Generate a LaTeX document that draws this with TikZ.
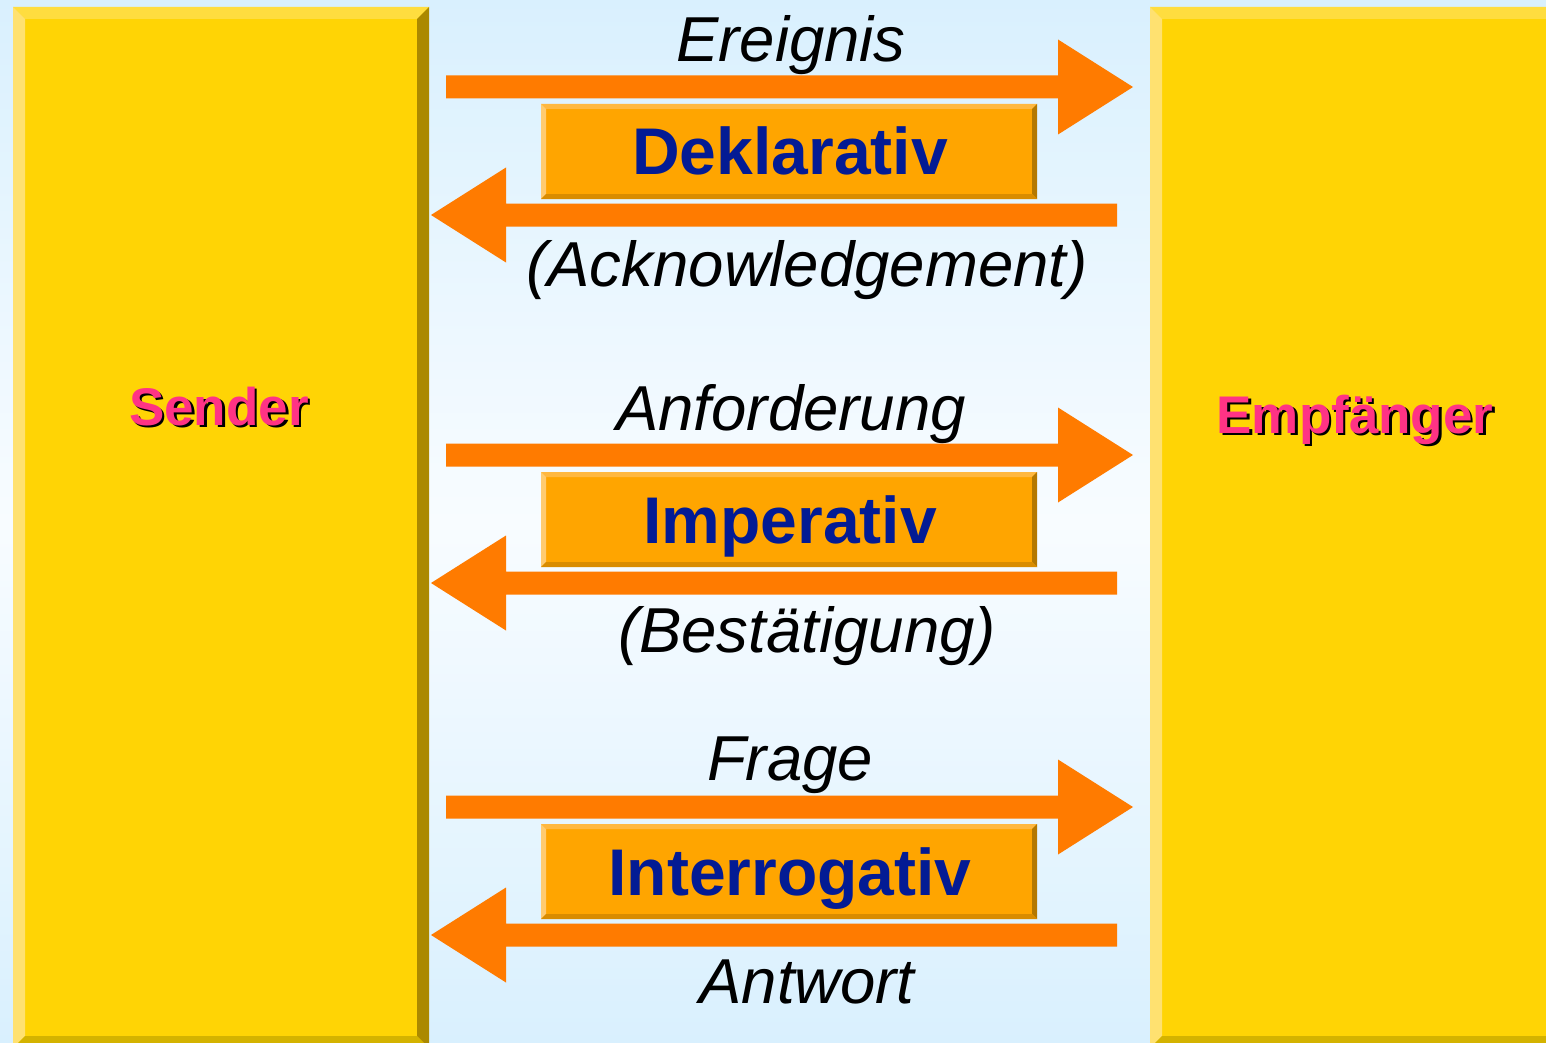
\documentclass[tikz,border=0pt]{standalone}
\usepackage{fontspec}
\setmainfont{Liberation Sans}
\usetikzlibrary{calc}

\definecolor{bgedge}{HTML}{D9F0FE}
\definecolor{bgmid}{HTML}{F8FCFF}
\definecolor{ymain}{HTML}{FFD405}
\definecolor{ytop}{HTML}{FFDD3F}
\definecolor{yleft}{HTML}{FFE170}
\definecolor{yright}{HTML}{AB8900}
\definecolor{ybottom}{HTML}{D4B300}
\definecolor{omain}{HTML}{FFA500}
\definecolor{otop}{HTML}{FFB840}
\definecolor{oleft}{HTML}{FFCB70}
\definecolor{oright}{HTML}{B57800}
\definecolor{obottom}{HTML}{D98C00}
\definecolor{arrowc}{HTML}{FF7B00}
\definecolor{textblue}{HTML}{031B94}
\definecolor{pinktext}{HTML}{FF3385}

% bevelled rectangle: corners (#1,#2)-(#3,#4), bevel width #5, colour prefix #6
\newcommand\bevelrect[6]{%
  \fill[#6main] (#1,#2) rectangle (#3,#4);
  \fill[#6top] (#1,#2) -- (#3,#2) -- (#3-#5,#2+#5) -- (#1+#5,#2+#5) -- cycle;
  \fill[#6left] (#1,#2) -- (#1+#5,#2+#5) -- (#1+#5,#4-#5) -- (#1,#4) -- cycle;
  \fill[#6right] (#3,#2) -- (#3,#4) -- (#3-#5,#4-#5) -- (#3-#5,#2+#5) -- cycle;
  \fill[#6bottom] (#1,#4) -- (#3,#4) -- (#3-#5,#4-#5) -- (#1+#5,#4-#5) -- cycle;
}

% block arrow from the tail coordinate #1 to the tip coordinate #2 (horizontal)
\newcommand\blockarrow[3]{% #3 = +1 pointing right, -1 pointing left
  \fill[arrowc] ($(#1)+(0,-11.5)$) -- ($(#2)+(-75*#3,-11.5)$) -- ($(#2)+(-75*#3,-47.5)$)
    -- (#2) -- ($(#2)+(-75*#3,47.5)$) -- ($(#2)+(-75*#3,11.5)$) -- ($(#1)+(0,11.5)$) -- cycle;
}

\tikzset{
  msg/.style={font=\fontsize{63.5}{70}\selectfont\itshape, text=black, anchor=base, inner sep=0pt},
  kind/.style={font=\fontsize{66}{72}\selectfont\bfseries, text=textblue, anchor=base, inner sep=0pt},
  party/.style={font=\fontsize{53}{60}\selectfont\bfseries, text=pinktext, anchor=base, inner sep=0pt},
  partyshadow/.style={party, text=black},
}

\begin{document}
\begin{tikzpicture}[x=1pt,y=-1pt]
\useasboundingbox (0,0) rectangle (1546,1043);
\begin{scope}
\clip (0,0) rectangle (1546,1043);
% background
\shade[top color=bgedge, bottom color=bgedge, middle color=bgmid] (0,0) rectangle (1546,1043);

% sender and receiver columns
\bevelrect{13}{7}{429}{1048}{12}{y}
\bevelrect{1150}{7}{1570}{1048}{12}{y}

\node[partyshadow] at (221.5,427.5) {Sender};
\node[party] (sender) at (219,425) {Sender};
\node[partyshadow] at (1357.5,435.5) {Empfänger};
\node[party] (empf) at (1355,433) {Empfänger};

% message arrows
\coordinate (r1s) at (446,87);  \coordinate (r1e) at (1133,87);
\coordinate (l1s) at (1117,215); \coordinate (l1e) at (431,215);
\coordinate (r2s) at (446,455); \coordinate (r2e) at (1133,455);
\coordinate (l2s) at (1117,583); \coordinate (l2e) at (431,583);
\coordinate (r3s) at (446,807); \coordinate (r3e) at (1133,807);
\coordinate (l3s) at (1117,935); \coordinate (l3e) at (431,935);
\blockarrow{r1s}{r1e}{1}
\blockarrow{l1s}{l1e}{-1}
\blockarrow{r2s}{r2e}{1}
\blockarrow{l2s}{l2e}{-1}
\blockarrow{r3s}{r3e}{1}
\blockarrow{l3s}{l3e}{-1}

% message kinds
\bevelrect{541}{104}{1037}{199}{5}{o}
\bevelrect{541}{472}{1037}{567}{5}{o}
\bevelrect{541}{824}{1037}{919}{5}{o}
\node[kind] (dekl) at (790,175) {Deklarativ};
\node[kind] (imp) at (790,543) {Imperativ};
\node[kind] (inter) at (790,895) {Interrogativ};

% message labels
\node[msg] (ereignis) at (791,62) {Ereignis};
\node[msg] (ack) at (807,286) {(Acknowledgement)};
\node[msg] (anf) at (791,430) {Anforderung};
\node[msg] (best) at (807,652) {(Bestätigung)};
\node[msg] (frage) at (790,780) {Frage};
\node[msg] (antw) at (807,1003) {Antwort};
\end{scope}
\end{tikzpicture}
\end{document}
